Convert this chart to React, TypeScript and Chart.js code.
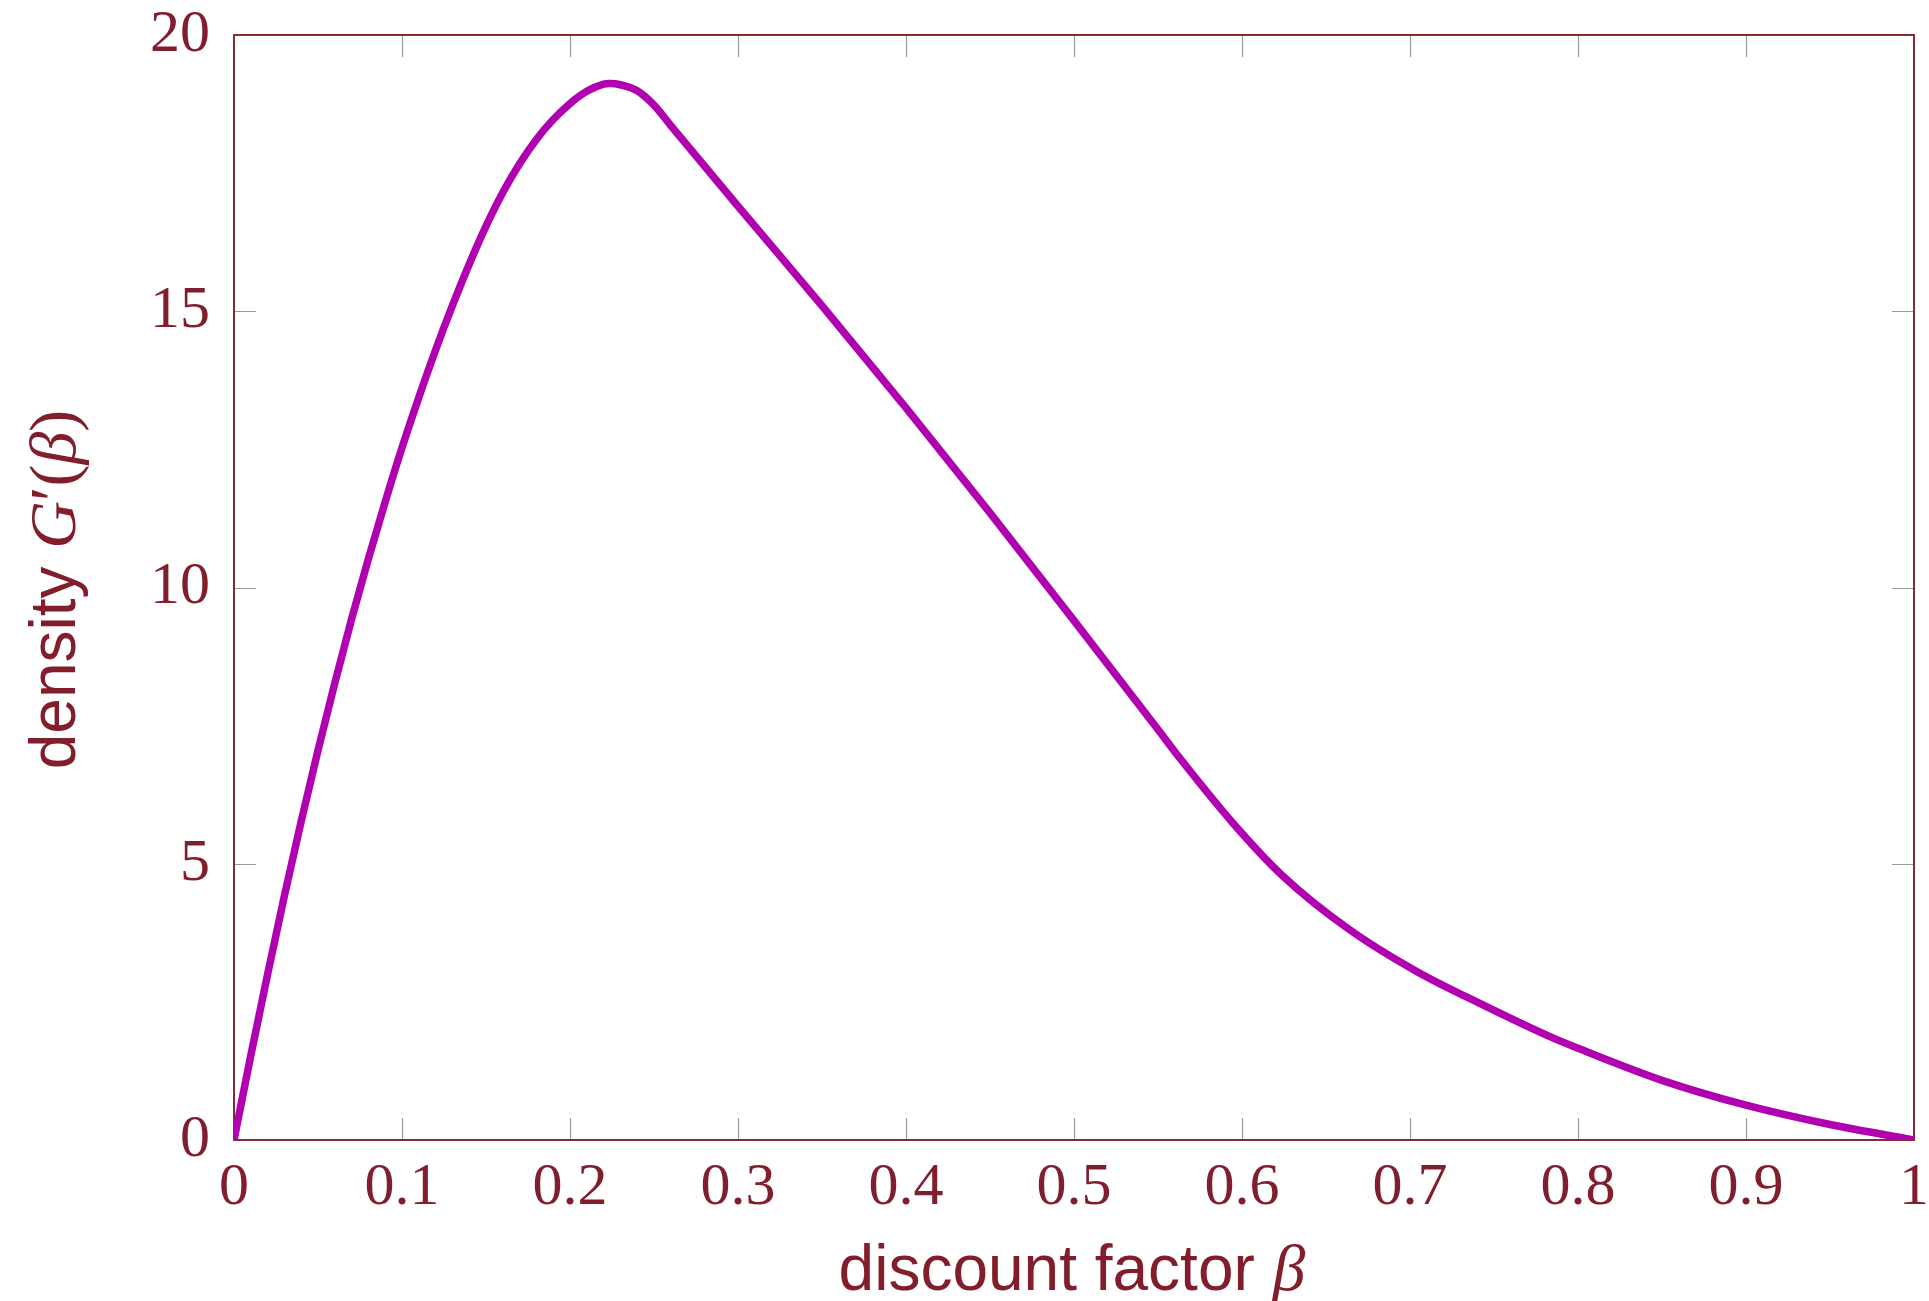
import React, { useEffect, useRef } from "react";
import { Chart, registerables } from "chart.js";

Chart.register(...registerables);

// ---- data ----
const betaValues = [
  0, 0.01, 0.02, 0.03, 0.04, 0.05, 0.06, 0.07, 0.08, 0.09, 0.1,
  0.11, 0.12, 0.13, 0.14, 0.15, 0.16, 0.17, 0.18, 0.19, 0.2,
  0.21, 0.22, 0.2233, 0.23, 0.24, 0.25, 0.26, 0.3, 0.35, 0.4, 0.45, 0.5, 0.55, 0.562,
  0.5948, 0.6246, 0.6643, 0.704, 0.7437, 0.7833, 0.8, 0.85, 0.9, 0.95, 1,
];
const densityValues = [
  0, 1.53, 3.0, 4.42, 5.77, 7.05, 8.27, 9.43, 10.52, 11.55, 12.53,
  13.44, 14.3, 15.1, 15.85, 16.54, 17.15, 17.67, 18.11, 18.47, 18.76,
  18.98, 19.11, 19.12, 19.1, 18.99, 18.73, 18.36, 16.9, 15.1, 13.25, 11.35, 9.4, 7.43, 6.95,
  5.73, 4.77, 3.8, 3.05, 2.44, 1.87, 1.66, 1.08, 0.63, 0.28, 0,
];
const xTickValues = [0, 0.1, 0.2, 0.3, 0.4, 0.5, 0.6, 0.7, 0.8, 0.9, 1];
const xTickLabels = ["0", "0.1", "0.2", "0.3", "0.4", "0.5", "0.6", "0.7", "0.8", "0.9", "1"];
const yTickValues = [0, 5, 10, 15, 20];
const yTickLabels = ["0", "5", "10", "15", "20"];

const TEXT_COLOR = "#821E2B";
const FRAME_COLOR = "#8A2A36";
const LINE_COLOR = "#B000B0";
const TICK_COLOR = "#9a9a9a";
const SANS = "'Liberation Sans', Arial, Helvetica, sans-serif";
const SERIF = "'Liberation Serif', 'Times New Roman', serif";

type Part = { text: string; font: string };

function drawParts(ctx: CanvasRenderingContext2D, parts: Part[], cx: number, cy: number, rotate: boolean) {
  ctx.save();
  let total = 0;
  const widths = parts.map((p) => {
    ctx.font = p.font;
    const w = ctx.measureText(p.text).width;
    total += w;
    return w;
  });
  ctx.translate(cx, cy);
  if (rotate) ctx.rotate(-Math.PI / 2);
  ctx.fillStyle = TEXT_COLOR;
  ctx.textBaseline = "alphabetic";
  ctx.textAlign = "left";
  let x = -total / 2;
  parts.forEach((p, i) => {
    ctx.font = p.font;
    ctx.fillText(p.text, x, 0);
    x += widths[i];
  });
  ctx.restore();
}

const framePlugin = {
  id: "frameAndTicks",
  beforeDatasetsDraw(chart: any) {
    const { ctx, chartArea, scales } = chart;
    const { left, right, top, bottom } = chartArea;
    const tl = 22;
    ctx.save();
    ctx.strokeStyle = TICK_COLOR;
    ctx.lineWidth = 1.2;
    ctx.beginPath();
    xTickValues.forEach((v, i) => {
      if (i === 0 || i === xTickValues.length - 1) return;
      const px = Math.round(scales.x.getPixelForValue(v)) + 0.5;
      ctx.moveTo(px, bottom);
      ctx.lineTo(px, bottom - tl);
      ctx.moveTo(px, top);
      ctx.lineTo(px, top + tl);
    });
    yTickValues.forEach((v, i) => {
      if (i === 0 || i === yTickValues.length - 1) return;
      const py = Math.round(scales.y.getPixelForValue(v)) + 0.5;
      ctx.moveTo(left, py);
      ctx.lineTo(left + tl, py);
      ctx.moveTo(right, py);
      ctx.lineTo(right - tl, py);
    });
    ctx.stroke();
    ctx.strokeStyle = FRAME_COLOR;
    ctx.lineWidth = 2;
    ctx.strokeRect(left, top, right - left, bottom - top);
    ctx.restore();
  },
  afterDraw(chart: any) {
    const { ctx, chartArea } = chart;
    const cx = (chartArea.left + chartArea.right) / 2 - 2;
    drawParts(
      ctx,
      [
        { text: "discount factor ", font: `64px ${SANS}` },
        { text: "β", font: `italic 66px ${SERIF}` },
      ],
      cx,
      1290,
      false
    );
    const cy = (chartArea.top + chartArea.bottom) / 2 + 2;
    drawParts(
      ctx,
      [
        { text: "density ", font: `64px ${SANS}` },
        { text: "G", font: `italic 66px ${SERIF}` },
        { text: "′", font: `66px ${SERIF}` },
        { text: "(", font: `66px ${SERIF}` },
        { text: "β", font: `italic 66px ${SERIF}` },
        { text: ")", font: `66px ${SERIF}` },
      ],
      75,
      cy,
      true
    );
  },
};

export default function App() {
  const canvasRef = useRef<HTMLCanvasElement | null>(null);

  useEffect(() => {
    const canvas = canvasRef.current;
    if (!canvas) return;
    const points = betaValues.map((b, i) => ({ x: b, y: densityValues[i] }));
    const chart = new Chart(canvas, {
      type: "line",
      data: {
        datasets: [
          {
            data: points,
            borderColor: LINE_COLOR,
            borderWidth: 7.5,
            pointRadius: 0,
            fill: false,
            cubicInterpolationMode: "monotone",
            borderJoinStyle: "round",
            borderCapStyle: "butt",
          },
        ],
      },
      options: {
        animation: false,
        responsive: false,
        maintainAspectRatio: false,
        events: [],
        layout: { padding: { left: 0, right: 15, top: 35, bottom: 0 } },
        plugins: { legend: { display: false }, tooltip: { enabled: false }, title: { display: false } },
        scales: {
          x: {
            type: "linear",
            min: 0,
            max: 1,
            grid: { display: false },
            border: { display: false },
            afterBuildTicks: (scale: any) => {
              scale.ticks = xTickValues.map((v) => ({ value: v }));
            },
            afterFit: (scale: any) => {
              scale.height = 161;
              scale.paddingLeft = 0;
              scale.paddingRight = 0;
              scale.paddingTop = 0;
              scale.paddingBottom = 0;
            },
            ticks: {
              autoSkip: false,
              maxRotation: 0,
              padding: 10,
              color: TEXT_COLOR,
              font: { family: SERIF, size: 60, lineHeight: 1 },
              callback: (_v: any, i: number) => xTickLabels[i],
            },
          },
          y: {
            type: "linear",
            min: 0,
            max: 20,
            grid: { display: false },
            border: { display: false },
            afterBuildTicks: (scale: any) => {
              scale.ticks = yTickValues.map((v) => ({ value: v }));
            },
            afterFit: (scale: any) => {
              scale.width = 234;
              scale.paddingLeft = 0;
              scale.paddingRight = 0;
              scale.paddingTop = 0;
              scale.paddingBottom = 0;
            },
            ticks: {
              autoSkip: false,
              padding: 16,
              color: TEXT_COLOR,
              font: { family: SERIF, size: 60, lineHeight: 1 },
              callback: (_v: any, i: number) => yTickLabels[i],
            },
          },
        },
      },
      plugins: [framePlugin],
    } as any);
    return () => chart.destroy();
  }, []);

  return (
    <div style={{ position: "fixed", left: 0, top: 0, width: 1929, height: 1301, background: "#fff" }}>
      <canvas ref={canvasRef} width={1929} height={1301} style={{ display: "block", width: 1929, height: 1301 }} />
    </div>
  );
}
